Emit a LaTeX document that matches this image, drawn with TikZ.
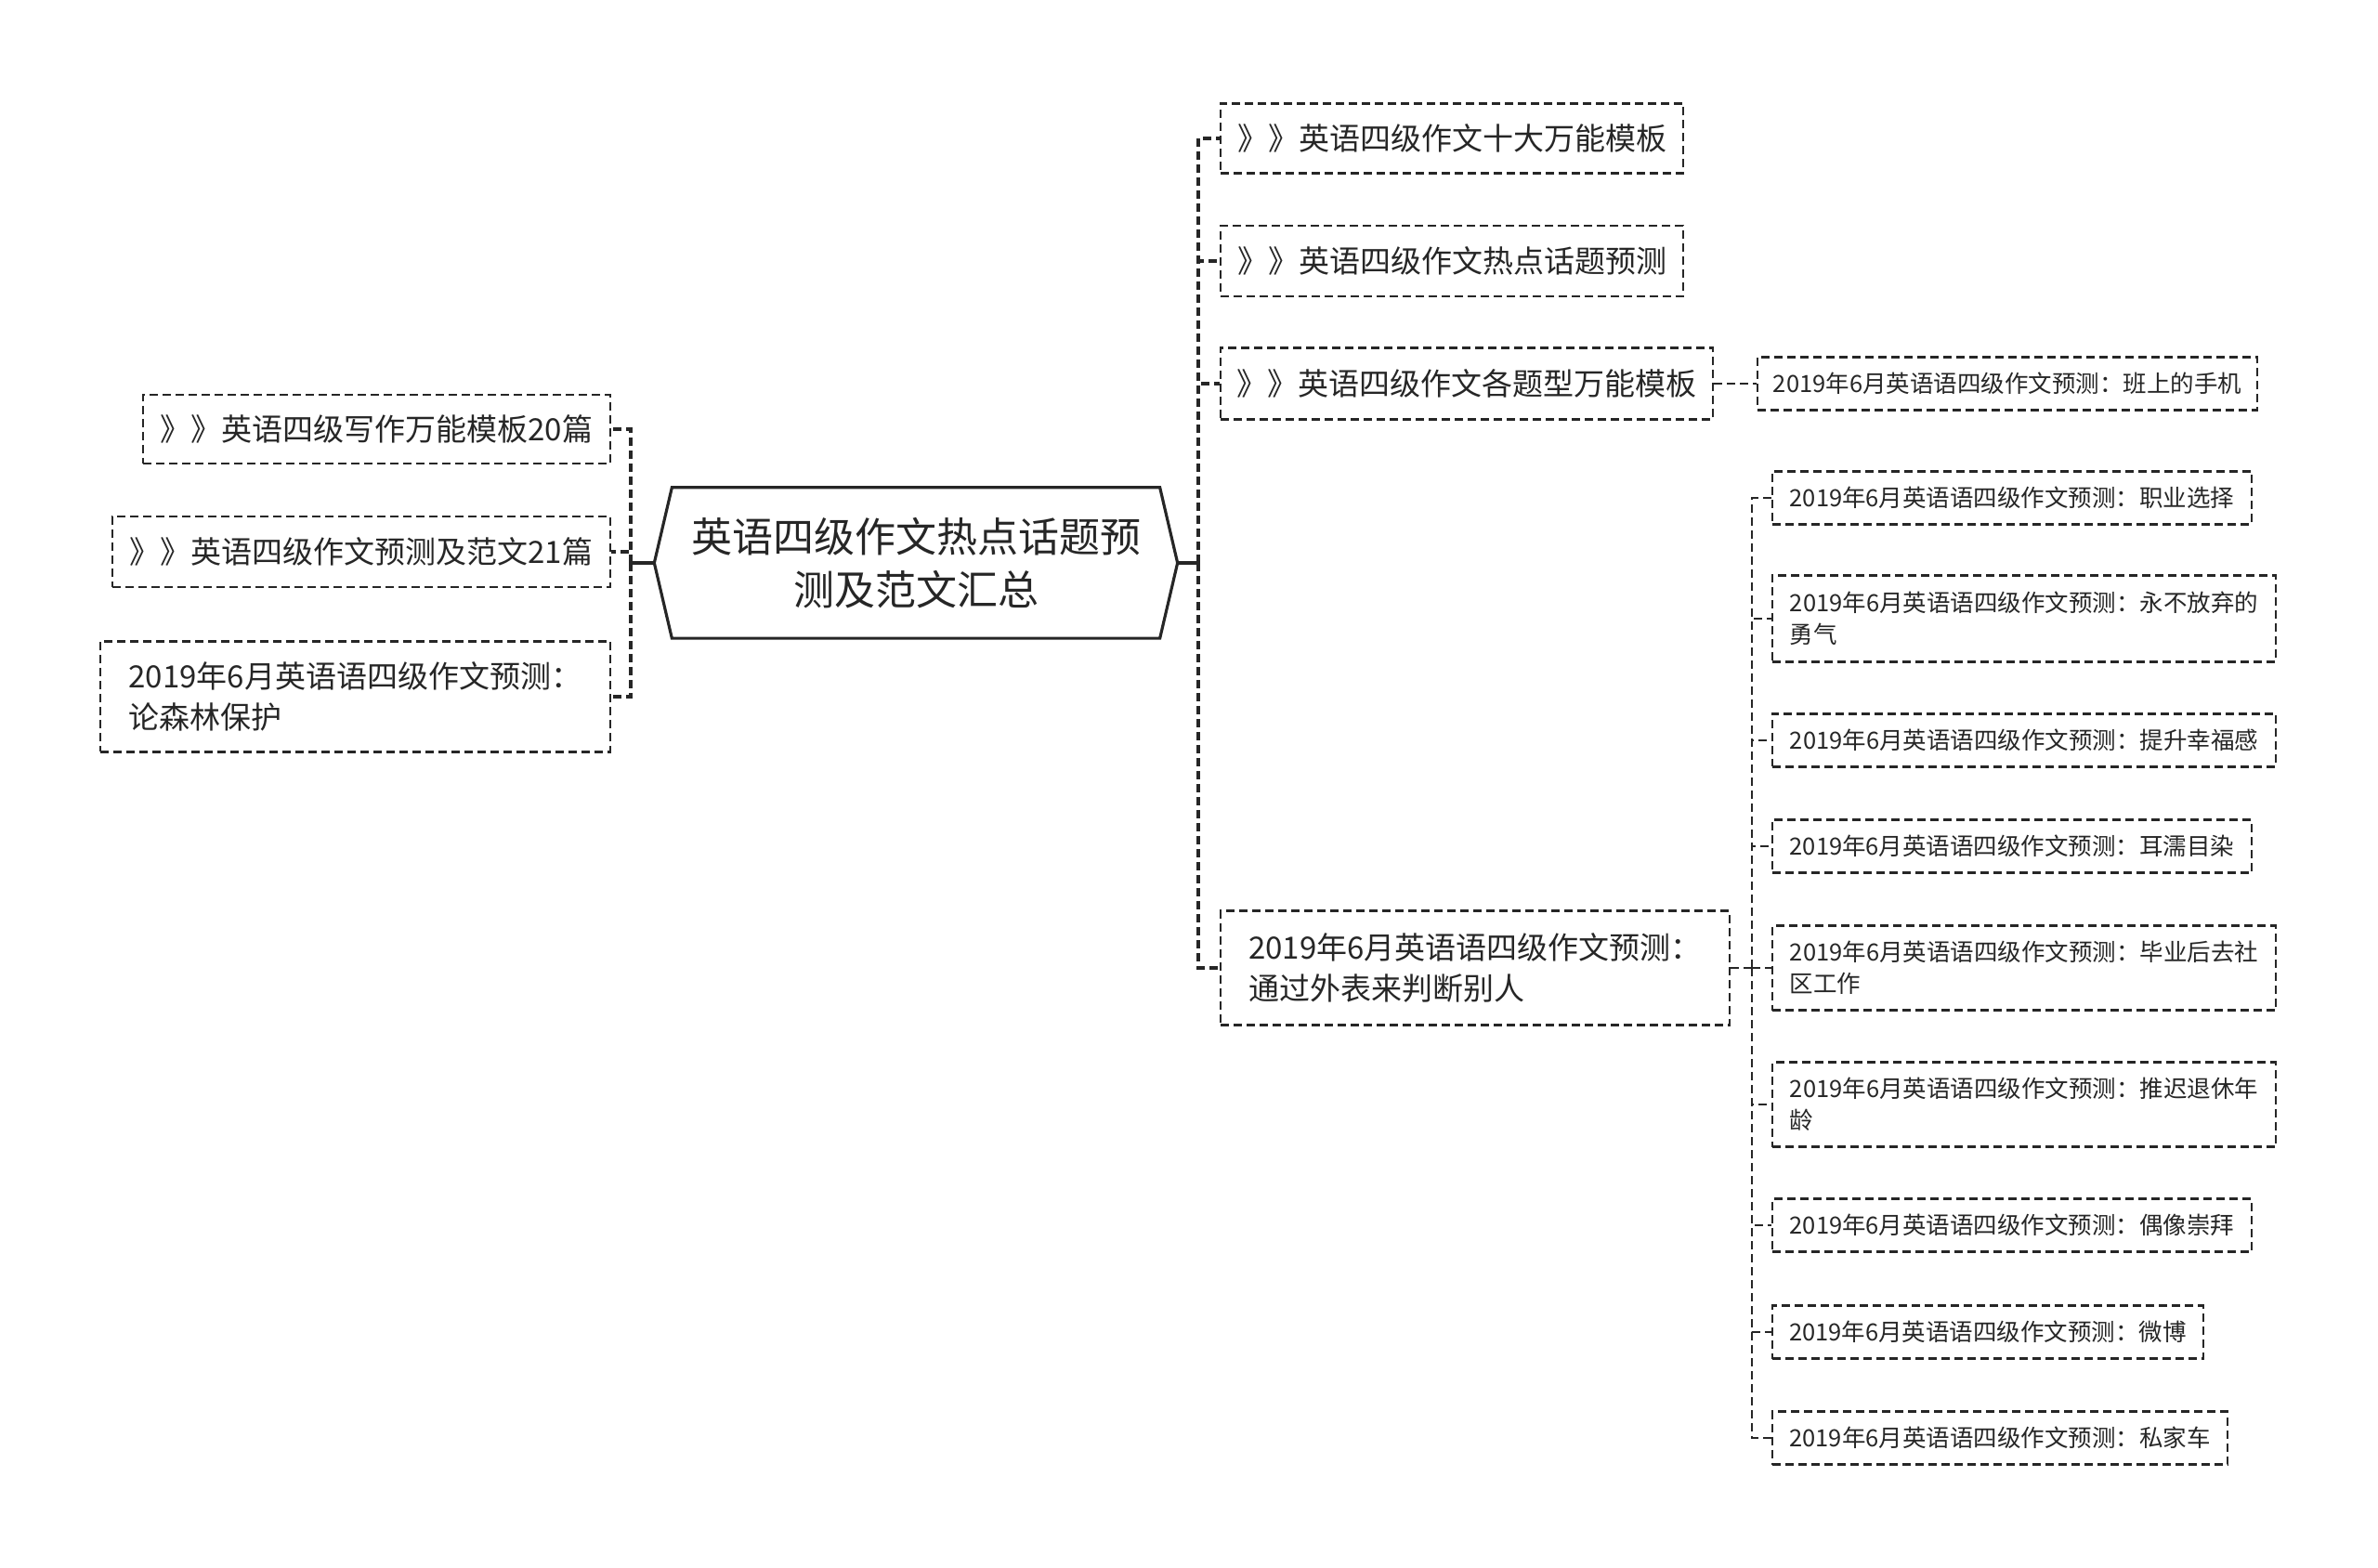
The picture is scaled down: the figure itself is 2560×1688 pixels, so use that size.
\documentclass[tikz,border=0pt]{standalone}
\usepackage{fontspec}
\setmainfont{Noto Sans CJK SC}

\begin{document}
\begin{tikzpicture}[x=0.3pt, y=-0.3pt,
  box/.style={draw=black!85, line width=0.65pt, dash pattern=on 2.7pt off 1.5pt,
    inner xsep=4pt, inner ysep=0pt, text=black!85, align=left},
  topic/.style={box, font=\fontsize{9.9}{13.2}\selectfont},
  sub/.style={box, font=\fontsize{7.65}{10.2}\selectfont, minimum height=17.1pt},
  link/.style={black!85, line width=1pt, dash pattern=on 2.7pt off 1.5pt},
  sublink/.style={black!85, line width=0.6pt, dash pattern=on 2.7pt off 1.5pt}]
\useasboundingbox (0,0) rectangle (2560,1688);

% Root
\node[font=\fontsize{13.2}{17.1}\selectfont, text=black!85, align=center,
  minimum width=168.6pt, minimum height=48.3pt, inner sep=0pt] (root) at (986,606)
  {英语四级作文热点话题预\\测及范文汇总};
\draw[black!85, line width=0.95pt] ([xshift=5.7pt]root.north west) -- ([xshift=-5.7pt]root.north east)
  -- (root.east) -- ([xshift=-5.7pt]root.south east) -- ([xshift=5.7pt]root.south west)
  -- (root.west) -- cycle;

% Left side
\node[topic, anchor=east, minimum width=150.9pt, minimum height=22.2pt] (l1) at (658,462) {》》英语四级写作万能模板20篇};
\node[topic, anchor=east, minimum width=160.8pt, minimum height=22.8pt] (l2) at (658,594) {》》英语四级作文预测及范文21篇};
\node[topic, anchor=east, minimum width=164.7pt, minimum height=35.7pt] (l3) at (658,750) {2019年6月英语语四级作文预测：\\论森林保护};

\coordinate (lj) at (679,606);
\draw[black!85, line width=1pt] (root.west) -- (lj);
\draw[link] (lj) |- (l1.east);
\draw[link] (lj) |- (l2.east);
\draw[link] (lj) |- (l3.east);

% Right side
\node[topic, anchor=west, minimum width=149.4pt, minimum height=22.5pt] (r1) at (1313,149) {》》英语四级作文十大万能模板};
\node[topic, anchor=west, minimum width=149.4pt, minimum height=22.8pt] (r2) at (1313,281) {》》英语四级作文热点话题预测};
\node[topic, anchor=west, minimum width=159pt, minimum height=23.1pt] (r3) at (1313,413) {》》英语四级作文各题型万能模板};
\node[topic, anchor=west, minimum width=164.4pt, minimum height=36.9pt] (r4) at (1313,1042) {2019年6月英语语四级作文预测：\\通过外表来判断别人};

\coordinate (rj) at (1290,606);
\draw[black!85, line width=1pt] (root.east) -- (rj);
\draw[link] (rj) |- (r1.west);
\draw[link] (rj) |- (r2.west);
\draw[link] (rj) |- (r3.west);
\draw[link] (rj) |- (r4.west);

% Sub topics
\node[sub, anchor=west, minimum width=161.4pt] (g1) at (1891,413) {2019年6月英语语四级作文预测：班上的手机};
\draw[sublink] (r3.east) -- (g1.west);

\node[sub, anchor=west, minimum width=154.8pt] (c1) at (1907,536) {2019年6月英语语四级作文预测：职业选择};
\node[sub, anchor=west, minimum width=162.6pt, minimum height=27.9pt] (c2) at (1907,666) {2019年6月英语语四级作文预测：永不放弃的\\勇气};
\node[sub, anchor=west, minimum width=162.6pt] (c3) at (1907,797) {2019年6月英语语四级作文预测：提升幸福感};
\node[sub, anchor=west, minimum width=154.8pt] (c4) at (1907,911) {2019年6月英语语四级作文预测：耳濡目染};
\node[sub, anchor=west, minimum width=162.6pt, minimum height=27.3pt] (c5) at (1907,1042) {2019年6月英语语四级作文预测：毕业后去社\\区工作};
\node[sub, anchor=west, minimum width=162.6pt, minimum height=27.3pt] (c6) at (1907,1189) {2019年6月英语语四级作文预测：推迟退休年\\龄};
\node[sub, anchor=west, minimum width=154.8pt] (c7) at (1907,1319) {2019年6月英语语四级作文预测：偶像崇拜};
\node[sub, anchor=west, minimum width=139.2pt] (c8) at (1907,1434) {2019年6月英语语四级作文预测：微博};
\node[sub, anchor=west, minimum width=147pt] (c9) at (1907,1548) {2019年6月英语语四级作文预测：私家车};

\coordinate (cj) at (1886,1042);
\draw[sublink] (r4.east) -- (cj);
\draw[sublink] (cj) |- (c1.west);
\draw[sublink] (cj) |- (c2.west);
\draw[sublink] (cj) |- (c3.west);
\draw[sublink] (cj) |- (c4.west);
\draw[sublink] (cj) |- (c5.west);
\draw[sublink] (cj) |- (c6.west);
\draw[sublink] (cj) |- (c7.west);
\draw[sublink] (cj) |- (c8.west);
\draw[sublink] (cj) |- (c9.west);
\end{tikzpicture}
\end{document}
